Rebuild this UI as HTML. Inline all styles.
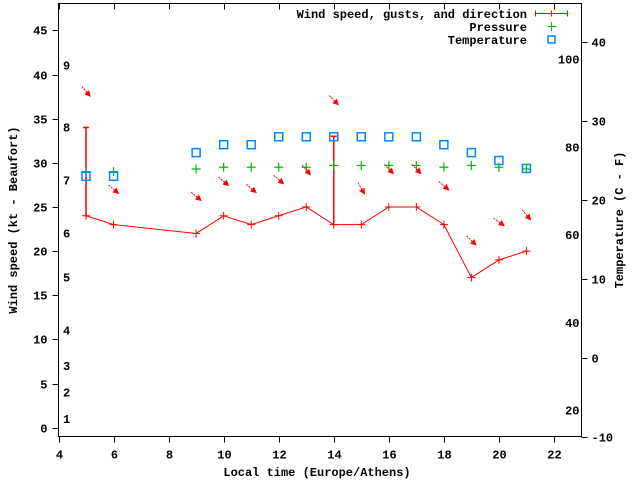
<!DOCTYPE html>
<html><head><meta charset="utf-8"><style>
body{margin:0;background:#fff}
svg text{font-family:"Liberation Mono",monospace;font-weight:bold;font-size:12px;fill:#000}
</style></head><body>
<svg id="chart" width="640" height="480" viewBox="0 0 640 480" xmlns="http://www.w3.org/2000/svg">
<g id="axes"></g><g id="marks"></g>
<text x="317" y="476" text-anchor="middle">Local time (Europe/Athens)</text>
<text transform="translate(17,220) rotate(-90)" text-anchor="middle">Wind speed (kt - Beaufort)</text>
<text transform="translate(623,220) rotate(-90)" text-anchor="middle">Temperature (C - F)</text>
<g>
<text x="527" y="18" text-anchor="end">Wind speed, gusts, and direction</text>
<path d="M535.5 13.5H567.5M535.5 10.5V16.5M567.5 10.5V16.5M551.5 10.5V16.5" stroke="#f00" fill="none"/>
<text x="527" y="31" text-anchor="end">Pressure</text>
<path d="M547.5 26.5H556.5M551.5 22V31" stroke="#0b0" fill="none"/>
<text x="527" y="44" text-anchor="end">Temperature</text>
<rect x="548" y="36" width="7" height="7" stroke="#08f" stroke-width="1.5" fill="none"/>
</g>
</svg>
<script>
const hours=[5,6,9,10,11,12,13,14,15,16,17,18,19,20,21];
const windKt=[24,23,22,24,23,24,25,23,23,25,25,23,17,19,20];
const gustKt=[34,null,null,null,null,null,null,33,null,null,null,null,null,null,null];
const pressure=[29.0,29.0,29.3,29.5,29.5,29.5,29.5,29.7,29.7,29.7,29.7,29.5,29.7,29.5,29.3];
const tempC=[23,23,26,27,27,28,28,28,28,28,28,27,26,25,24];
const arrowKt=[38.1,27.0,26.2,27.9,27.1,28.1,29.2,37.1,27.1,29.3,29.3,27.4,21.2,23.3,24.1];
const dirFrom=[320,310,310,310,310,310,320,315,330,315,315,310,315,305,320];
const xTicks=[4,6,8,10,12,14,16,18,20,22];
const yTicks=[0,5,10,15,20,25,30,35,40,45];
const y2Ticks=[-10,0,10,20,30,40];
const fLabels=[20,40,60,80,100];
const bftLabels=[1,2,3,4,5,6,7,8,9];
const bftKt=[1,4,7,11,17,22,28,34,41];

const L=58.5,R=581.5,T=3.5,B=436.5;
const X=h=>L+(h-4)*(R-L)/19;
const Y=v=>427.7-v*8.83;
const YC=c=>358-c*7.9;
const NS='http://www.w3.org/2000/svg';
const ax=document.getElementById('axes'),mk=document.getElementById('marks');
function el(p,t,a,txt){const e=document.createElementNS(NS,t);for(const k in a)e.setAttribute(k,a[k]);if(txt!==undefined)e.textContent=txt;p.appendChild(e);return e;}
let b=el(ax,'rect',{x:L,y:T,width:R-L,height:B-T,fill:'none',stroke:'#000'});


xTicks.forEach(h=>{const x=Math.round(X(h))+.5;
 let t=el(ax,'path',{d:`M${x} ${B}V${B+6}M${x} ${T}V${T+6}`,stroke:'#000'});
 
 
 let l=el(ax,'text',{x:x,y:B+22,'text-anchor':'middle'},h);
 
 });
yTicks.forEach(v=>{const y=Math.round(Y(v))+.5;
 let t=el(ax,'path',{d:`M${L-6} ${y}H${L}`,stroke:'#000'});
 
 
 let l=el(ax,'text',{x:L-11,y:y+4,'text-anchor':'end'},v);
 
 });
y2Ticks.forEach(c=>{const y=Math.round(YC(c))+.5;
 let t=el(ax,'path',{d:`M${R} ${y}H${R+6}`,stroke:'#000'});
 
 
 let l=el(ax,'text',{x:R+10,y:y+4},c);
 
 });
fLabels.forEach(f=>{const y=YC((f-32)*5/9);
 let l=el(ax,'text',{x:R-2,y:y+4,'text-anchor':'end'},f);
 
 });
bftLabels.forEach((n,i)=>{const y=Y(bftKt[i]);
 let l=el(ax,'text',{x:63,y:y+4},n);
 
 });
let pl=el(mk,'polyline',{points:hours.map((h,i)=>X(h)+','+Y(windKt[i])).join(' '),fill:'none',stroke:'#f00'});


hours.forEach((h,i)=>{const x=X(h),y=Y(windKt[i]);
 let p=el(mk,'path',{d:`M${x-4} ${y}H${x+4}M${x} ${y-4}V${y+4}`,stroke:'#f00'});
 
 
 if(gustKt[i]!=null){const g=Y(gustKt[i]);
  let e=el(mk,'path',{d:`M${x} ${y}V${g}M${x-3} ${g}H${x+3}`,stroke:'#f00','stroke-width':1.5});
  
  }
 const py=Y(pressure[i]);
 let pp=el(mk,'path',{d:`M${x-4.5} ${py}H${x+4.5}M${x} ${py-4.5}V${py+4.5}`,stroke:'#0b0','stroke-width':1.2});
 
 
 const ty=YC(tempC[i]);
 let r=el(mk,'rect',{x:x-4,y:ty-4,width:8,height:8,fill:'none',stroke:'#08f','stroke-width':1.5});
 
 
 const a=(dirFrom[i]+180)*Math.PI/180,dx=Math.sin(a),dy=-Math.cos(a),ay=Y(arrowKt[i]),len=6.5;
 const x1=x-dx*len,y1=ay-dy*len,x2=x+dx*len,y2=ay+dy*len;
 const px=-dy,py2=dx;
 let ar=el(mk,'path',{d:`M${x1} ${y1}L${x2-dx*3} ${y2-dy*3}`,stroke:'#f00','stroke-width':1,'stroke-dasharray':'2 1',fill:'none'});
 
 
 let hd=el(mk,'path',{d:`M${x2} ${y2}L${x2-dx*5+px*2.5} ${y2-dy*5+py2*2.5}L${x2-dx*5-px*2.5} ${y2-dy*5-py2*2.5}Z`,stroke:'#f00',fill:'#f00','stroke-width':0.8});
 
 
});
</script>
</body></html>
